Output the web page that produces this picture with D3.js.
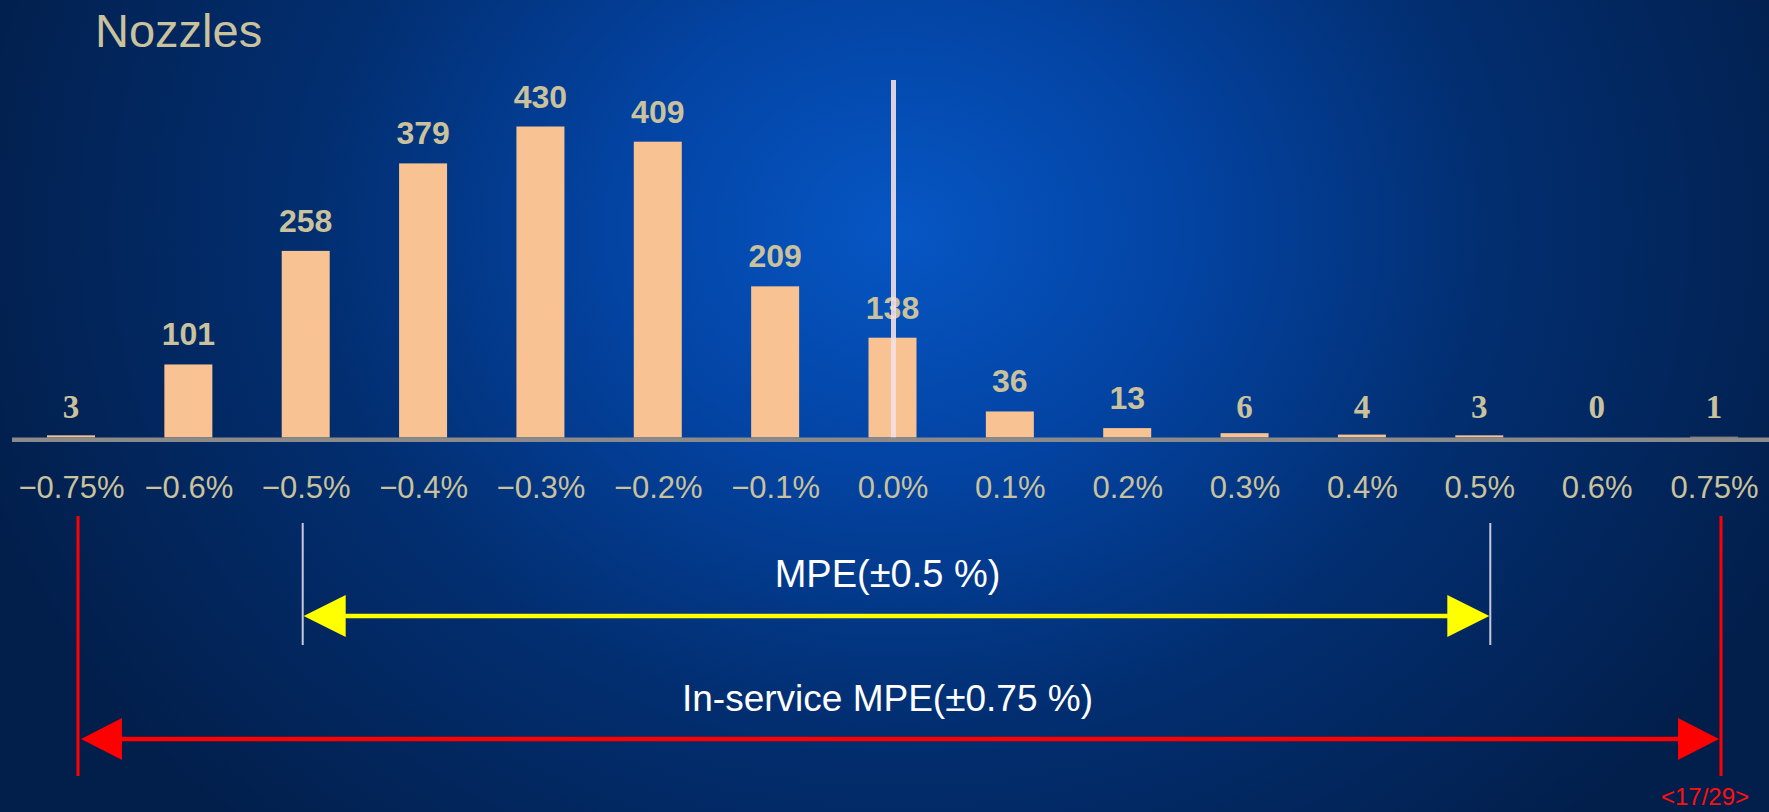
<!DOCTYPE html>
<html lang="en">
<head>
<meta charset="UTF-8">
<script src="https://d3js.org/d3.v7.min.js"></script>
<style>
  html, body { margin: 0; padding: 0; background: #011c48; overflow: hidden; }
  svg { display: block; }
</style>
</head>
<body>
<svg width="1769" height="812"></svg>
<script>

// ---- data ----
var categories = ["\u22120.75%", "\u22120.6%", "\u22120.5%", "\u22120.4%", "\u22120.3%", "\u22120.2%", "\u22120.1%",
                  "0.0%", "0.1%", "0.2%", "0.3%", "0.4%", "0.5%", "0.6%", "0.75%"];
var counts = [3, 101, 258, 379, 430, 409, 209, 138, 36, 13, 6, 4, 3, 0, 1];
var title = "Nozzles";
var mpeLabel = "MPE(\u00b10.5 %)";
var inServiceLabel = "In-service MPE(\u00b10.75 %)";
var pageLabel = "<17/29>";

var width = 1769, height = 812;
var svg = d3.select("svg");

// background: blue glow in the middle, navy to the edges
var defs = svg.append("defs");
var grad = defs.append("radialGradient")
    .attr("id", "bg")
    .attr("gradientUnits", "userSpaceOnUse")
    .attr("cx", 900).attr("cy", 230).attr("r", 980)
    .attr("gradientTransform", "translate(900,230) scale(1,0.85) translate(-900,-230)");
grad.append("stop").attr("offset", "0").attr("stop-color", "#0656c4");
grad.append("stop").attr("offset", "0.28").attr("stop-color", "#0344a4");
grad.append("stop").attr("offset", "0.6").attr("stop-color", "#022e70");
grad.append("stop").attr("offset", "1").attr("stop-color", "#021e4a");

svg.append("rect")
    .attr("width", width).attr("height", height)
    .attr("fill", "url(#bg)");

// scales
var x = d3.scalePoint()
    .domain(categories)
    .range([71, 1714]);
var barW = 48;

var y = d3.scaleLinear()
    .domain([0, d3.max(counts)])
    .range([437.5, 126.5]);

var data = categories.map(function(c, i) { return {cat: c, value: counts[i]}; });

// title
svg.append("text")
    .attr("x", 95).attr("y", 47)
    .attr("font-family", "Liberation Sans, Arial, sans-serif")
    .attr("font-size", 47)
    .attr("fill", "#c9c29c")
    .text(title);

// bars
svg.selectAll(".bar")
    .data(data)
  .enter().append("rect")
    .attr("class", "bar")
    .attr("x", function(d) { return x(d.cat) - barW / 2; })
    .attr("width", barW)
    .attr("y", function(d) { return y(d.value); })
    .attr("height", function(d) { return y(0) - y(d.value); })
    .attr("fill", "#f8c292");

// value labels (the single digits are set in a serif face on the slide)
svg.selectAll(".val")
    .data(data)
  .enter().append("text")
    .attr("class", "val")
    .attr("x", function(d) { return x(d.cat); })
    .attr("y", function(d) { return d.value < 10 ? 418 : y(d.value) - 19; })
    .attr("text-anchor", "middle")
    .attr("font-family", function(d) {
      return d.value < 10 ? "Liberation Serif, Times New Roman, serif" : "Liberation Sans, Arial, sans-serif";
    })
    .attr("font-size", function(d) { return d.value < 10 ? 33 : 32; })
    .attr("font-weight", "bold")
    .attr("fill", "#c9c29c")
    .text(function(d) { return d.value; });

// zero line
svg.append("line")
    .attr("x1", x("0.0%") + 1).attr("x2", x("0.0%") + 1)
    .attr("y1", 80).attr("y2", y(0))
    .attr("stroke", "#f4dfe4")
    .attr("stroke-opacity", 0.9)
    .attr("stroke-width", 5);

// baseline
svg.append("line")
    .attr("x1", 12).attr("x2", width)
    .attr("y1", y(0) + 2.3).attr("y2", y(0) + 2.3)
    .attr("stroke", "#8a8a8a")
    .attr("stroke-width", 4.6);

// category axis (labels only)
var axis = svg.append("g")
    .attr("transform", "translate(0," + y(0) + ")")
    .call(d3.axisBottom(x).tickSize(0));
axis.select(".domain").remove();
axis.selectAll("text")
    .attr("y", 60)
    .attr("dy", null)
    .attr("font-family", "Liberation Sans, Arial, sans-serif")
    .attr("font-size", 31)
    .attr("fill", "#c9c29c");

// double-headed arrow helper
function arrow(x1, x2, yy, color, sw, headLen, headHalf) {
  var g = svg.append("g");
  g.append("line")
      .attr("x1", x1 + headLen - 2).attr("x2", x2 - headLen + 2)
      .attr("y1", yy).attr("y2", yy)
      .attr("stroke", color).attr("stroke-width", sw);
  g.append("path")
      .attr("d", "M" + x1 + "," + yy + "L" + (x1 + headLen) + "," + (yy - headHalf) + "L" + (x1 + headLen) + "," + (yy + headHalf) + "Z")
      .attr("fill", color);
  g.append("path")
      .attr("d", "M" + x2 + "," + yy + "L" + (x2 - headLen) + "," + (yy - headHalf) + "L" + (x2 - headLen) + "," + (yy + headHalf) + "Z")
      .attr("fill", color);
}

// MPE +-0.5 %
var mL = x("\u22120.5%") - 3, mR = x("0.5%") + 11;
[mL, mR].forEach(function(xx) {
  svg.append("line")
      .attr("x1", xx).attr("x2", xx)
      .attr("y1", 523).attr("y2", 645)
      .attr("stroke", "#c8c8dc").attr("stroke-width", 2);
});
arrow(mL + 1, mR - 1, 616, "#ffff00", 4.5, 42, 21);

svg.append("text")
    .attr("x", (mL + mR) / 2 - 9).attr("y", 587)
    .attr("text-anchor", "middle")
    .attr("font-family", "Liberation Sans, Arial, sans-serif")
    .attr("font-size", 38)
    .attr("fill", "#ffffff")
    .text(mpeLabel);

// in-service MPE +-0.75 %
var iL = x("\u22120.75%") + 7, iR = x("0.75%") + 7;
[iL, iR].forEach(function(xx) {
  svg.append("line")
      .attr("x1", xx).attr("x2", xx)
      .attr("y1", 516).attr("y2", 776)
      .attr("stroke", "#ff0000").attr("stroke-width", 3);
});
arrow(iL + 3, iR - 2, 739, "#ff0000", 4.5, 41, 21);

svg.append("text")
    .attr("x", (iL + iR) / 2 - 12).attr("y", 711)
    .attr("text-anchor", "middle")
    .attr("font-family", "Liberation Sans, Arial, sans-serif")
    .attr("font-size", 37)
    .attr("fill", "#ffffff")
    .text(inServiceLabel);

// page number
svg.append("text")
    .attr("x", 1705).attr("y", 805)
    .attr("text-anchor", "middle")
    .attr("font-family", "Liberation Sans, Arial, sans-serif")
    .attr("font-size", 24)
    .attr("fill", "#ff1010")
    .text(pageLabel);

</script>
</body>
</html>
